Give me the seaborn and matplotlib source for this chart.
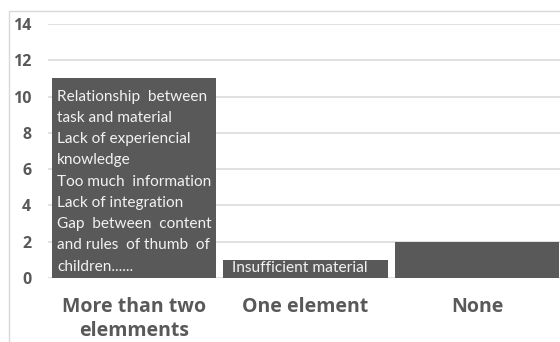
import matplotlib
matplotlib.use('Agg')
import matplotlib.pyplot as plt
import seaborn as sns
from matplotlib.lines import Line2D

categories = ['More than two\nelemments', 'One element', 'None']
counts = [11, 1, 2]
notes = [
    'Relationship  between\ntask and material\nLack of experiencial\nknowledge\n'
    'Too much  information\nLack of integration\nGap  between  content\n'
    'and rules  of thumb  of\nchildren......',
    'Insufficient material',
    '',
]
yticks = [0, 2, 4, 6, 8, 10, 12, 14]

bar_color = '#595959'
grid_color = '#d9d9d9'
text_color = '#595959'

sns.set_style('white')
plt.rcParams['font.family'] = ['Lato', 'DejaVu Sans']

fig = plt.figure(figsize=(5.6, 3.42), dpi=100)
ax = fig.add_axes([48 / 560, 64 / 342, 1 - 48 / 560, 254 / 342])

sns.barplot(x=categories, y=counts, color=bar_color, saturation=1,
            width=0.956, edgecolor='none', ax=ax, zorder=2)

ax.set_ylim(0, 14)
ax.set_xlim(-0.5, 2.483)
ax.set_yticks(yticks)
ax.yaxis.grid(True, color=grid_color, lw=1.1, zorder=0)
ax.set_axisbelow(True)
for s in ax.spines.values():
    s.set_visible(False)

ax.tick_params(axis='y', length=0, pad=12, labelsize=11.5, labelcolor=text_color)
ax.tick_params(axis='x', length=0, pad=14, labelsize=14, labelcolor=text_color)
for lab in ax.get_yticklabels():
    lab.set_family(['Open Sans', 'DejaVu Sans'])
    lab.set_fontweight('bold')
for lab in ax.get_xticklabels():
    lab.set_family(['Open Sans', 'DejaVu Sans'])
    lab.set_fontweight('bold')
    lab.set_linespacing(1.22)
    lab.set_verticalalignment('top')

# notes written inside the bars
for bar, note in zip(ax.patches, notes):
    if not note:
        continue
    big = bar.get_height() > 5
    ax.annotate(note, xy=(bar.get_x(), bar.get_height()),
                xytext=(4 if big else 6.5, -8 if big else -1.0),
                textcoords='offset points', ha='left', va='top',
                fontsize=11.1 if big else 11.2, color='#f2f2f2',
                linespacing=1.66, zorder=3)

# outer frame of the original chart area
fig.add_artist(Line2D([9 / 560, 1], [1 - 11 / 342] * 2, color=grid_color, lw=1))
fig.add_artist(Line2D([9 / 560] * 2, [0, 1 - 11 / 342], color=grid_color, lw=1))

fig.savefig('out.png', dpi=100)
